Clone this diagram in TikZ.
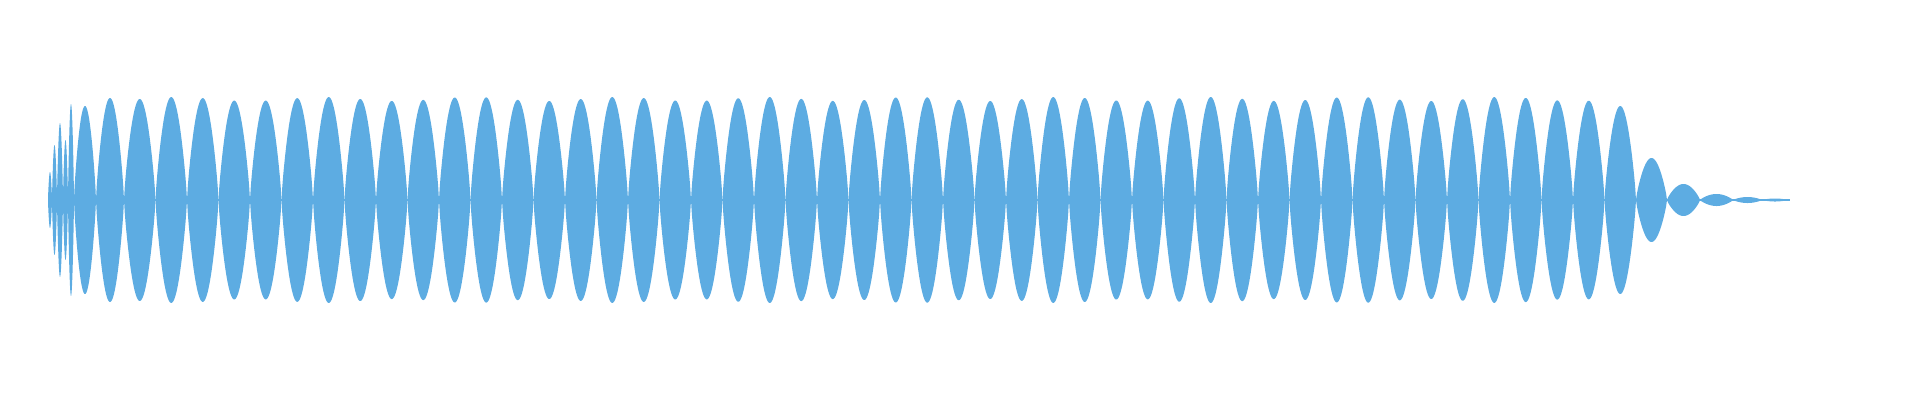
\documentclass[tikz,border=0pt]{standalone}
\definecolor{wave}{RGB}{93,172,226}
\tikzset{lobe/.style={fill=wave}}
\newcommand{\lobe}[3]{%
  \fill[lobe] (#1,200) -- plot[domain=0:180,samples=40] ({#1+(#2-#1)*\x/180},{200-#3*(sin(\x))^0.8})
   -- plot[domain=180:0,samples=40] ({#1+(#2-#1)*\x/180},{200+#3*(sin(\x))^0.8}) -- cycle;}
\begin{document}
\begin{tikzpicture}[x=1pt,y=-1pt]
\useasboundingbox (0,0) rectangle (1920,400);
\fill[wave] (48,199) rectangle (1790,201);
\foreach \s/\e/\a in {48/52/28,52/57/55,57/63/77,63/68/60,68/74/96,74/96/94,96/124/102}{\lobe{\s}{\e}{\a}}
\foreach \i in {0,...,47}{
  \pgfmathsetmacro{\s}{124+31.5*\i}
  \pgfmathsetmacro{\e}{124+31.5*(\i+1)}
  \pgfmathsetmacro{\a}{\i==47 ? 94 : 101+2*sin(\i*77)}
  \lobe{\s}{\e}{\a}}
\foreach \s/\e/\a in {1636/1667/42,1667/1700/16,1700/1733/6,1733/1762/3,1762/1788/1.5}{\lobe{\s}{\e}{\a}}
\end{tikzpicture}
\end{document}
